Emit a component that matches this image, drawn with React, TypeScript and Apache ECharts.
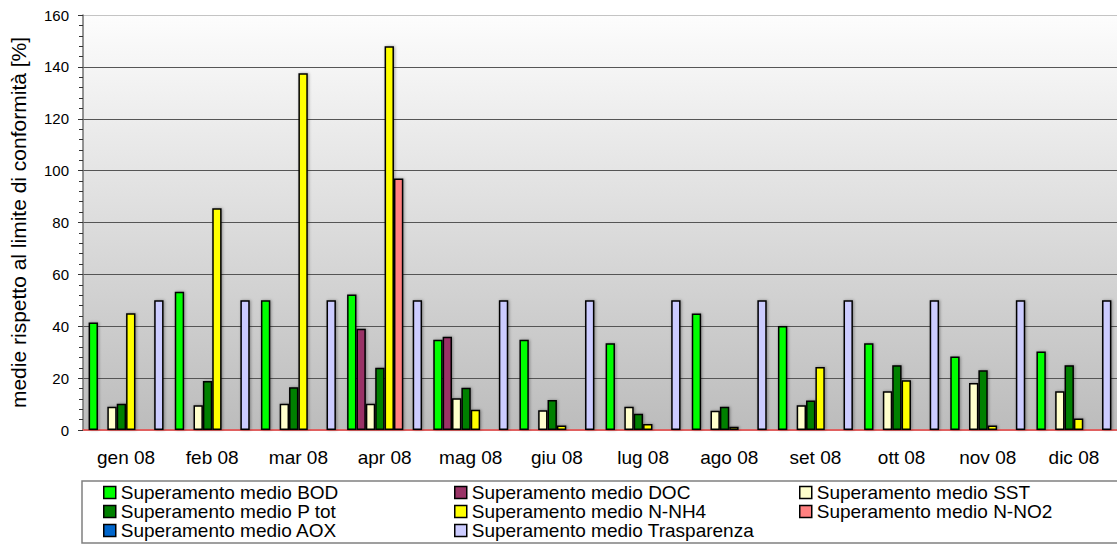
import React, { useEffect, useRef } from "react";
import * as echarts from "echarts";

const months = ["gen 08", "feb 08", "mar 08", "apr 08", "mag 08", "giu 08", "lug 08", "ago 08", "set 08", "ott 08", "nov 08", "dic 08"];
const bod = [41.4, 53.3, 50, 52.2, 34.8, 34.8, 33.4, 44.9, 40.1, 33.4, 28.3, 30.3];
const doc = [null, null, null, 39, 36, null, null, null, null, null, null, null];
const sst = [9.0, 9.5, 10.1, 10.1, 12.2, 7.6, 9.0, 7.4, 9.5, 14.9, 18.1, 14.9];
const ptot = [10.1, 18.9, 16.5, 24, 16.3, 11.6, 6.3, 9.0, 11.4, 25, 23, 25];
const nnh4 = [45, 85.5, 137.5, 148, 7.8, 1.7, 2.3, 1.3, 24.3, 19.2, 1.7, 4.4];
const nno2 = [null, null, null, 97, null, null, null, null, null, null, null, null];
const aox = [null, null, null, null, null, null, null, null, null, null, null, null];
const trasparenza = [50, 50, 50, 50, 50, 50, 50, 50, 50, 50, 50, 50];
const yTicks = [0, 20, 40, 60, 80, 100, 120, 140, 160];

const seriesDefs = [
  { name: "Superamento medio BOD", data: bod, color: "#00FF00" },
  { name: "Superamento medio DOC", data: doc, color: "#993366" },
  { name: "Superamento medio SST", data: sst, color: "#FFFFCC" },
  { name: "Superamento medio P tot", data: ptot, color: "#008000" },
  { name: "Superamento medio N-NH4", data: nnh4, color: "#FFFF00" },
  { name: "Superamento medio N-NO2", data: nno2, color: "#FF8080" },
  { name: "Superamento medio AOX", data: aox, color: "#0066CC" },
  { name: "Superamento medio Trasparenza", data: trasparenza, color: "#CCCCFF" },
];

const FONT = "Liberation Sans, Arial, sans-serif";

export default function App() {
  const ref = useRef<HTMLDivElement>(null);
  useEffect(() => {
    if (!ref.current) return;
    const chart = echarts.init(ref.current, null, { renderer: "svg" });
    const legendText = { fontSize: 19, fontFamily: FONT, color: "#000", lineHeight: 17.5 };
    const legendBase = {
      orient: "vertical" as const,
      top: 483,
      padding: 0,
      itemGap: 0,
      itemWidth: 12,
      itemHeight: 12,
      icon: "rect",
      selectedMode: false,
      textStyle: legendText,
      itemStyle: { borderColor: "#000", borderWidth: 1.5 },
    };
    chart.setOption({
      animation: false,
      backgroundColor: "#fff",
      textStyle: { fontFamily: FONT },
      grid: {
        left: 77,
        top: 15,
        width: 1043,
        height: 415,
        show: true,
        borderWidth: 0,
        backgroundColor: new echarts.graphic.LinearGradient(0, 0, 0, 1, [
          { offset: 0, color: "#fdfdfd" },
          { offset: 1, color: "#bcbcbc" },
        ]),
      },
      graphic: [
        {
          type: "rect",
          z: -1,
          shape: { x: 82, y: 481, width: 1050, height: 62 },
          style: { fill: "#fff", stroke: "#808080", lineWidth: 1.5 },
        },
      ],
      legend: [
        { ...legendBase, left: 103, data: [seriesDefs[0].name, seriesDefs[3].name, seriesDefs[6].name] },
        { ...legendBase, left: 454, data: [seriesDefs[1].name, seriesDefs[4].name, seriesDefs[7].name] },
        { ...legendBase, left: 799, data: [seriesDefs[2].name, seriesDefs[5].name] },
      ],
      xAxis: {
        type: "category",
        data: months,
        axisLine: { show: true, lineStyle: { color: "#E06060", width: 2 } },
        axisTick: { show: false },
        axisLabel: { fontSize: 19, color: "#000", fontFamily: FONT, margin: 18 },
        splitLine: { show: false },
      },
      yAxis: {
        type: "value",
        min: 0,
        max: 160,
        interval: 20,
        name: "medie rispetto al limite di conformità [%]",
        nameLocation: "middle",
        nameGap: 54,
        nameTextStyle: { fontSize: 21, color: "#000", fontFamily: FONT },
        axisLine: { show: true, lineStyle: { color: "#707070", width: 1.5 } },
        axisTick: { show: true, length: 5, lineStyle: { color: "#333" } },
        minorTick: { show: true, splitNumber: 5, length: 4, lineStyle: { color: "#333" } },
        axisLabel: {
          fontSize: 15,
          color: "#000",
          fontFamily: FONT,
          margin: 14,
          formatter: (v: number) => (yTicks.includes(v) ? String(v) : ""),
        },
        splitLine: {
          show: true,
          lineStyle: {
            color: ["#555", "#555", "#555", "#555", "#555", "#555", "#555", "#555", "#c4c4c4"],
            width: 1,
          },
        },
      },
      series: seriesDefs.map((s) => ({
        name: s.name,
        type: "bar",
        data: s.data,
        barGap: "0%",
        barCategoryGap: "13%",
        itemStyle: {
          color: s.color,
          borderColor: "#000",
          borderWidth: 1.5,
          shadowColor: "rgba(0,0,0,0.35)",
          shadowBlur: 3,
          shadowOffsetX: 1,
          shadowOffsetY: 0,
        },
      })),
    });
    return () => chart.dispose();
  }, []);
  return <div ref={ref} style={{ position: "absolute", left: 0, top: 0, width: 1117, height: 544 }} />;
}
